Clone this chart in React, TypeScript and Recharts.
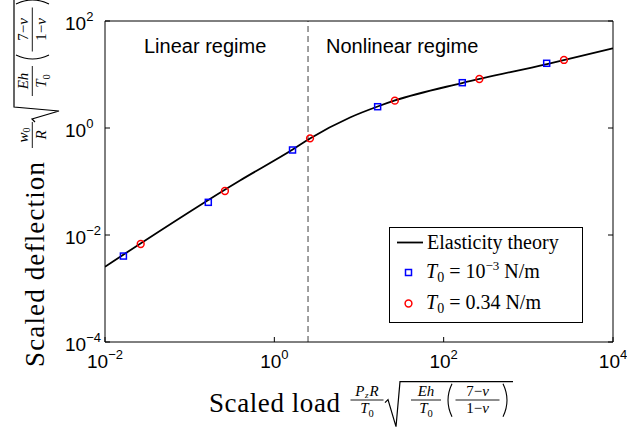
import React from "react";
import { ComposedChart, Legend, Line, ReferenceLine, Scatter, XAxis, YAxis } from "recharts";

// values (log-log axes)
const theoryLoad = [0.01, 0.393, 1.648, 2.637, 7.83, 16.6, 26.6, 164.6, 1661, 10000];
const theoryDeflection = [0.00255, 0.1045, 0.396, 0.637, 1.571, 2.52, 3.27, 6.93, 15.7, 30.9];

const softLoad = [0.0165, 0.166, 1.64, 16.6, 166, 1647];
const softDeflection = [0.00404, 0.0408, 0.388, 2.5, 7.03, 16.2];

const stiffLoad = [0.0264, 0.261, 2.64, 26.5, 264, 2636];
const stiffDeflection = [0.00679, 0.0664, 0.641, 3.24, 8.24, 18.7];

const loadTicks = [0.01, 1, 100, 10000];
const deflectionTicks = [0.0001, 0.01, 1, 100];
const regimeBoundary = 2.5;

const theoryData = theoryLoad.map((x, i) => ({ x, y: theoryDeflection[i] }));
const softData = softLoad.map((x, i) => ({ x, y: softDeflection[i] }));
const stiffData = stiffLoad.map((x, i) => ({ x, y: stiffDeflection[i] }));

const SANS = "'Liberation Sans', Arial, sans-serif";
const SERIF = "'Liberation Serif', 'Times New Roman', serif";
const BLUE = "#0000ff";
const RED = "#ff0000";

function expLabel(v: number) {
  const e = Math.round(Math.log10(v));
  return e < 0 ? `\u2212${-e}` : `${e}`;
}

function BottomTick({ x, y, payload }: any) {
  return (
    <g>
      <line x1={x} x2={x} y1={y} y2={y - 5} stroke="#000" />
      <text x={x} y={y + 26} textAnchor="middle" fontFamily={SANS} fontSize={19} fill="#000">
        10
        <tspan dy={-9} fontSize={13}>
          {expLabel(payload.value)}
        </tspan>
      </text>
    </g>
  );
}

function LeftTick({ x, y, payload }: any) {
  return (
    <g>
      <line x1={x} x2={x + 5} y1={y} y2={y} stroke="#000" />
      <text x={x - 40} y={y + 9} textAnchor="start" fontFamily={SANS} fontSize={19} fill="#000">
        10
        <tspan dy={-9} fontSize={13}>
          {expLabel(payload.value)}
        </tspan>
      </text>
    </g>
  );
}

function TopTick({ x, y }: any) {
  return <line x1={x} x2={x} y1={y} y2={y + 5} stroke="#000" />;
}

function RightTick({ x, y }: any) {
  return <line x1={x} x2={x - 5} y1={y} y2={y} stroke="#000" />;
}

function SquareDot({ cx, cy }: any) {
  return <rect x={cx - 3} y={cy - 3} width={6} height={6} fill="none" stroke={BLUE} strokeWidth={1.5} />;
}

function CircleDot({ cx, cy }: any) {
  return <circle cx={cx} cy={cy} r={3.4} fill="none" stroke={RED} strokeWidth={1.5} />;
}

function T0() {
  return (
    <>
      <tspan fontStyle="italic">T</tspan>
      <tspan fontSize="0.7em" dy={4}>
        0
      </tspan>
    </>
  );
}

function LegendBox() {
  return (
    <svg width={194} height={96} style={{ display: "block" }}>
      <rect x={0.5} y={0.5} width={193} height={95} fill="#fff" stroke="#000" />
      <line x1={8} x2={34} y1={15.5} y2={15.5} stroke="#000" strokeWidth={1.8} />
      <text x={38} y={21.5} fontFamily={SERIF} fontSize={20} fill="#000">
        Elasticity theory
      </text>
      <rect x={16.5} y={42.5} width={6} height={6} fill="none" stroke={BLUE} strokeWidth={1.5} />
      <text x={37} y={51} fontFamily={SERIF} fontSize={20} fill="#000">
        <T0 />
        <tspan dy={-4}> = 10</tspan>
        <tspan dy={-8} fontSize={13}>
          {"\u22123"}
        </tspan>
        <tspan dy={8}> N/m</tspan>
      </text>
      <circle cx={19.5} cy={76.5} r={3.4} fill="none" stroke={RED} strokeWidth={1.5} />
      <text x={37} y={82} fontFamily={SERIF} fontSize={20} fill="#000">
        <T0 />
        <tspan dy={-4}> = 0.34 N/m</tspan>
      </text>
    </svg>
  );
}

function Frac({ cx, w, num, den }: { cx: number; w: number; num: React.ReactNode; den: React.ReactNode }) {
  return (
    <g>
      <text x={cx} y={-16} textAnchor="middle" fontFamily={SERIF} fontSize={15} fill="#000">
        {num}
      </text>
      <line x1={cx - w / 2} x2={cx + w / 2} y1={-11.7} y2={-11.7} stroke="#000" strokeWidth={0.9} />
      <text x={cx} y={1.5} textAnchor="middle" fontFamily={SERIF} fontSize={15} fill="#000">
        {den}
      </text>
    </g>
  );
}

const nu = <tspan fontStyle="italic">{"\u03bd"}</tspan>;

function AxisMath({
  main,
  mainWidth,
  fracWidth,
  num,
  den,
  sqrtGap,
  transform,
}: {
  main: string;
  mainWidth: number;
  fracWidth: number;
  num: React.ReactNode;
  den: React.ReactNode;
  sqrtGap: number;
  transform: string;
}) {
  const s = mainWidth + sqrtGap;
  return (
    <g transform={transform}>
      <text x={0} y={0} fontFamily={SERIF} fontSize={27} textLength={mainWidth} lengthAdjust="spacing" fill="#000">
        {main}
      </text>
      <Frac cx={mainWidth + 27} w={fracWidth} num={num} den={den} />
      <path
        d={`M ${s - 1} -9 L ${s + 2} -12 L ${s + 10} 15 L ${s + 14} -30 L ${s + 127} -30`}
        fill="none"
        stroke="#000"
        strokeWidth={1.2}
        strokeLinejoin="miter"
      />
      <Frac cx={s + 40} w={30} num={<tspan fontStyle="italic">Eh</tspan>} den={<T0 />} />
      <path d={`M ${s + 66} -28 Q ${s + 58} -11.5 ${s + 66} 5`} fill="none" stroke="#000" strokeWidth={1.1} />
      <Frac
        cx={s + 91.5}
        w={44}
        num={
          <>
            7{"\u2212"}
            {nu}
          </>
        }
        den={
          <>
            1{"\u2212"}
            {nu}
          </>
        }
      />
      <path d={`M ${s + 117} -28 Q ${s + 125} -11.5 ${s + 117} 5`} fill="none" stroke="#000" strokeWidth={1.1} />
    </g>
  );
}

export default function App() {
  return (
    <div style={{ position: "absolute", left: 0, top: 0, width: 627, height: 430, background: "#fff" }}>
      <ComposedChart width={627} height={430} margin={{ top: 20, right: 13, bottom: 58, left: 60 }}>
        <XAxis
          dataKey="x"
          type="number"
          scale="log"
          domain={[0.01, 10000]}
          allowDataOverflow
          ticks={loadTicks}
          interval={0}
          height={30}
          tickSize={0}
          tickMargin={0}
          tickLine={false}
          tick={<BottomTick />}
          axisLine={{ stroke: "#000" }}
        />
        <XAxis
          xAxisId="top"
          orientation="top"
          type="number"
          scale="log"
          domain={[0.01, 10000]}
          allowDataOverflow
          ticks={loadTicks}
          interval={0}
          height={1}
          tickSize={0}
          tickMargin={0}
          tickLine={false}
          tick={<TopTick />}
          axisLine={{ stroke: "#000" }}
        />
        <YAxis
          dataKey="y"
          type="number"
          scale="log"
          domain={[0.0001, 100]}
          allowDataOverflow
          ticks={deflectionTicks}
          interval={0}
          width={45}
          tickSize={0}
          tickMargin={0}
          tickLine={false}
          tick={<LeftTick />}
          axisLine={{ stroke: "#000" }}
        />
        <YAxis
          yAxisId="right"
          orientation="right"
          type="number"
          scale="log"
          domain={[0.0001, 100]}
          allowDataOverflow
          ticks={deflectionTicks}
          interval={0}
          width={1}
          tickSize={0}
          tickMargin={0}
          tickLine={false}
          tick={<RightTick />}
          axisLine={{ stroke: "#000" }}
        />
        <ReferenceLine x={regimeBoundary} stroke="#404040" strokeDasharray="6 4" strokeWidth={1} />
        <Line
          data={theoryData}
          dataKey="y"
          name="Elasticity theory"
          type="monotone"
          stroke="#000"
          strokeWidth={1.8}
          dot={false}
          isAnimationActive={false}
        />
        <Scatter data={softData} dataKey="y" name="T0 = 1e-3 N/m" shape={SquareDot} isAnimationActive={false} />
        <Scatter data={stiffData} dataKey="y" name="T0 = 0.34 N/m" shape={CircleDot} isAnimationActive={false} />
        <Legend
          layout="vertical"
          align="center"
          verticalAlign="middle"
          wrapperStyle={{ left: 389, top: 227, width: 194, height: 96 }}
          content={<LegendBox />}
        />
      </ComposedChart>
      <svg width={627} height={430} style={{ position: "absolute", left: 0, top: 0, pointerEvents: "none" }}>
        <text x={144} y={53.3} fontFamily={SANS} fontSize={20} fill="#000">
          Linear regime
        </text>
        <text x={326} y={53} fontFamily={SANS} fontSize={20} fill="#000">
          Nonlinear regime
        </text>
        <AxisMath
          main="Scaled load"
          mainWidth={131}
          fracWidth={33}
          sqrtGap={46}
          transform="translate(209 411.7)"
          num={
            <>
              <tspan fontStyle="italic">P</tspan>
              <tspan fontStyle="italic" fontSize={9} dy={2} dx={0.5}>
                z
              </tspan>
              <tspan fontStyle="italic" dy={-2} dx={1}>
                R
              </tspan>
            </>
          }
          den={<T0 />}
        />
        <AxisMath
          main="Scaled deflection"
          mainWidth={205}
          fracWidth={26}
          sqrtGap={41}
          transform="translate(44 367) rotate(-90)"
          num={
            <>
              <tspan fontStyle="italic">w</tspan>
              <tspan fontSize={10} dy={2}>
                0
              </tspan>
            </>
          }
          den={<tspan fontStyle="italic">R</tspan>}
        />
      </svg>
    </div>
  );
}
